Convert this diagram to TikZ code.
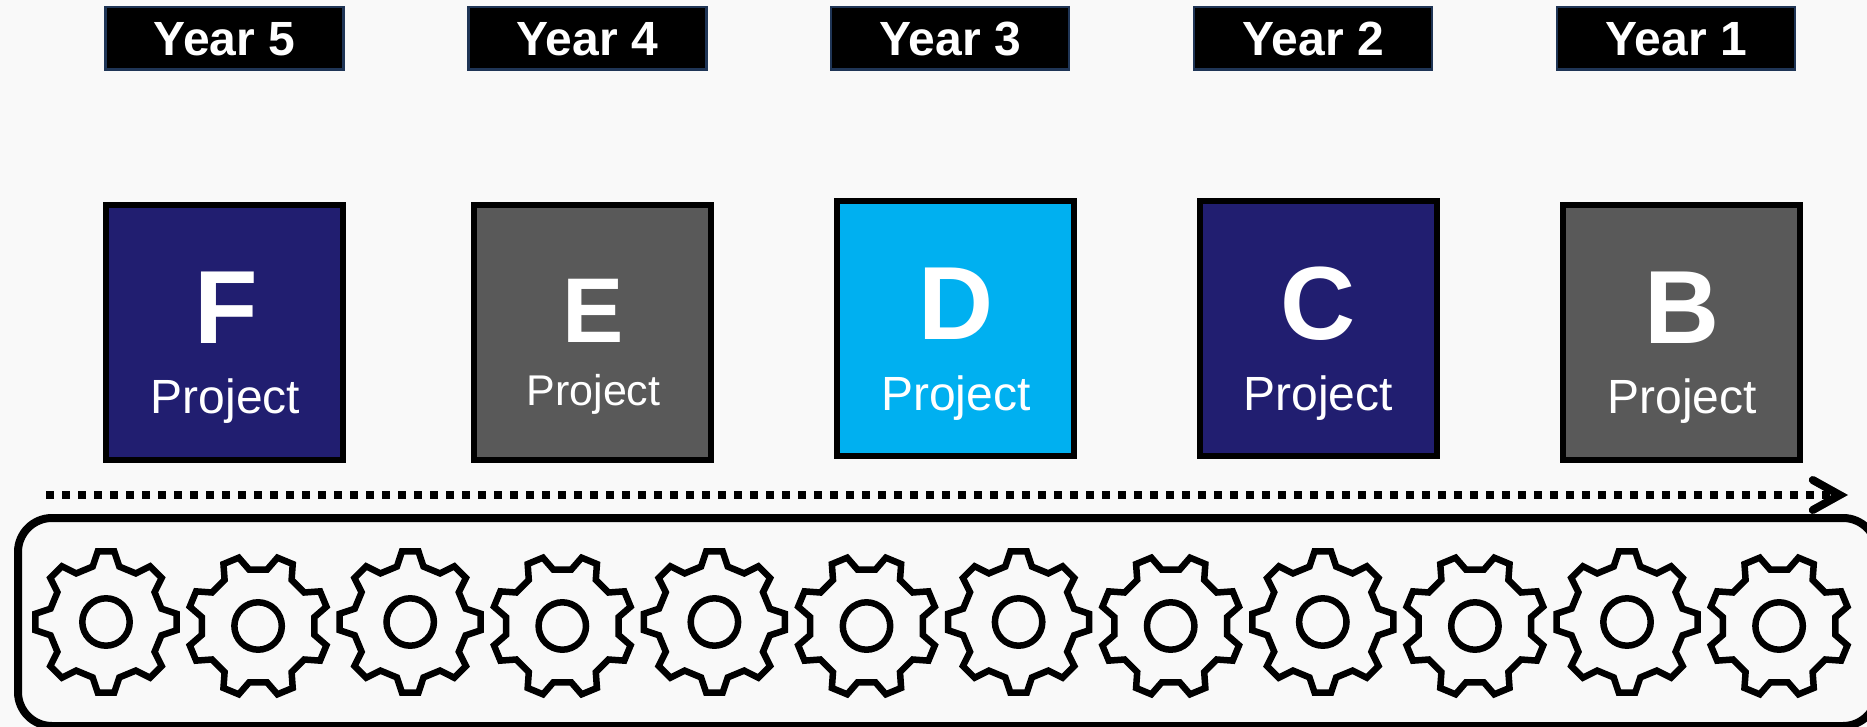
\documentclass[tikz,border=0pt]{standalone}
\usepackage{fontspec}
\setmainfont{Liberation Sans}
\usetikzlibrary{arrows.meta}
\definecolor{navyfill}{HTML}{211E70}
\definecolor{greyfill}{HTML}{595959}
\definecolor{cyanfill}{HTML}{00B0F0}
\definecolor{pagefill}{HTML}{F9F9F9}
\definecolor{yearedge}{HTML}{1F3556}
\tikzset{
  yearbox/.style = {shape=rectangle, draw=yearedge, fill=black, text=white,
    line width=2.5pt, minimum width=238pt, minimum height=62.5pt, inner sep=0pt,
    text height=34pt, text depth=0pt, font=\fontsize{48}{56}\selectfont\bfseries},
  projbox/.style = {shape=rectangle, draw=black, line width=6pt,
    minimum width=237pt, minimum height=255pt, inner sep=0pt},
  bigletter/.style = {anchor=base, inner sep=0pt, text=white, font=\fontsize{104}{120}\selectfont\bfseries},
  projlabel/.style = {anchor=base, inner sep=0pt, text=white, font=\fontsize{48}{56}\selectfont},
  beltbox/.style = {shape=rectangle, draw=black, line width=8pt, rounded corners=34pt,
    minimum width=1859pt, minimum height=208pt},
  flowline/.style = {draw=black, line width=8pt, dash pattern=on 8pt off 8pt,
    -{Straight Barb[length=27pt,width=30pt,line cap=round,line join=miter]}},
  gearline/.style = {draw=black, line width=6.5pt, miter limit=10},
  gearicon/.pic = {
    \draw[gearline] (-13.5:57)
      \foreach \a in {0,45,...,315} {
        -- (\a-13.5:57) -- (\a-6.7:71) -- (\a+6.7:71) -- (\a+13.5:57)
      } -- cycle;
    \draw[gearline] (0,0) circle (23.7);
  }
}
\begin{document}
\begin{tikzpicture}[x=1pt, y=-1pt]
  \useasboundingbox (0,0) rectangle (1867,727);
  \fill[pagefill] (0,0) rectangle (1867,727);
  \clip (0,0) rectangle (1867,727);

  % year headers
  \node[yearbox] (year5) at (224.5,38.5) {Year 5};
  \node[yearbox] (year4) at (587.3,38.5) {Year 4};
  \node[yearbox] (year3) at (950.2,38.5) {Year 3};
  \node[yearbox] (year2) at (1313.2,38.5) {Year 2};
  \node[yearbox] (year1) at (1676,38.5) {Year 1};

  % project cards
  \node[projbox, fill=navyfill] (cardF) at (224.5,332.5) {};
  \node[projbox, fill=greyfill] (cardE) at (592.5,332.5) {};
  \node[projbox, fill=cyanfill] (cardD) at (955.2,328.7) {};
  \node[projbox, fill=navyfill] (cardC) at (1318.2,328.7) {};
  \node[projbox, fill=greyfill] (cardB) at (1681,332.5) {};

  \node[bigletter] (letterF) at (226,343) {F};
  \node[projlabel] (labelF) at (225.6,413) {Project};
  \node[bigletter, font=\fontsize{92}{110}\selectfont\bfseries] (letterE) at (593.5,342) {E};
  \node[projlabel, font=\fontsize{43}{50}\selectfont] (labelE) at (593.5,405) {Project};
  \node[bigletter] (letterD) at (955.8,339) {D};
  \node[projlabel] (labelD) at (955.8,410.7) {Project};
  \node[bigletter] (letterC) at (1318,339) {C};
  \node[projlabel] (labelC) at (1318,410.7) {Project};
  \node[bigletter] (letterB) at (1681.7,343) {B};
  \node[projlabel] (labelB) at (1682,413) {Project};

  % timeline
  \coordinate (flowstart) at (46,495);
  \coordinate (flowend) at (1848,495);
  \draw[flowline] (flowstart) -- (flowend);

  % belt with gears
  \node[beltbox] (belt) at (947.5,622) {};
  \foreach \i/\gx/\gy/\grot in {1/106/622/0, 2/258.1/626/22.5, 3/410.2/622/0,
      4/562.3/626/22.5, 5/714.4/622/0, 6/866.5/626/22.5, 7/1018.6/622/0,
      8/1170.7/626/22.5, 9/1322.8/622/0, 10/1474.9/626/22.5, 11/1627/622/0,
      12/1779.1/626/22.5}
    \pic[rotate=\grot] (gear\i) at (\gx,\gy) {gearicon};
\end{tikzpicture}
\end{document}
